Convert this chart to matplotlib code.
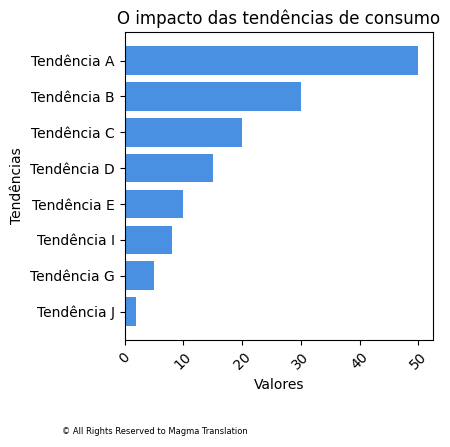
import matplotlib
matplotlib.use("Agg")
import matplotlib.pyplot as plt

# Data
tendencias = ["Tendência A", "Tendência B", "Tendência C", "Tendência D",
              "Tendência E", "Tendência I", "Tendência G", "Tendência J"]
valores = [50, 30, 20, 15, 10, 8, 5, 2]

fig = plt.figure(figsize=(4.5, 4.47), dpi=100)
ax = fig.add_axes([0.2767, 0.2394, 0.6855, 0.6886])

# Plot bars (first category at top)
ax.barh(tendencias[::-1], valores[::-1], color="#4a90e2")
ax.set_title("O impacto das tendências de consumo")
ax.set_xlabel("Valores")
ax.set_ylabel("Tendências")
ax.tick_params(axis="x", labelrotation=45)

fig.text(0.138, 0.03, "© All Rights Reserved to Magma Translation", fontsize=6)

fig.savefig("out.png", dpi=100)
